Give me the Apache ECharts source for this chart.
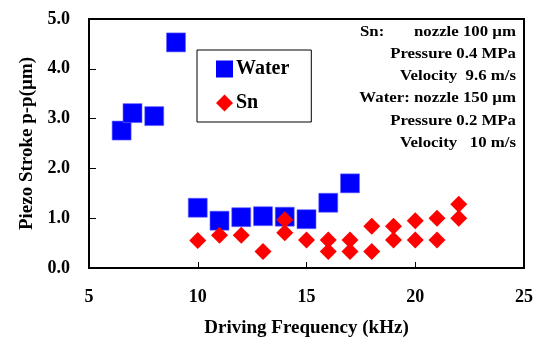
<!DOCTYPE html>
<html>
<head>
<meta charset="utf-8">
<script src="https://cdn.jsdelivr.net/npm/echarts@6/dist/echarts.min.js"></script>
<style>
  html, body { margin: 0; padding: 0; background: #fff; }
  #main { width: 542px; height: 343px; }
</style>
</head>
<body>
<div id="main"></div>
<script>
// water data (kHz, um)
const waterFreq = [6.5, 7, 8, 9, 10, 11, 12, 13, 14, 15, 16, 17];
const waterStroke = [2.76, 3.11, 3.05, 4.53, 1.21, 0.95, 1.02, 1.04, 1.03, 0.98, 1.31, 1.70];
// Sn data
const snFreq = [10, 11, 12, 13, 14, 14, 15, 16, 16, 17, 17, 18, 18, 19, 19, 20, 20, 21, 21, 22, 22];
const snStroke = [0.55, 0.66, 0.66, 0.33, 0.97, 0.71, 0.56, 0.56, 0.33, 0.56, 0.33, 0.84, 0.33, 0.84, 0.56, 0.95, 0.56, 1.00, 0.56, 1.28, 1.00];
const xTicks = [5, 10, 15, 20, 25];
const yTicks = [0, 1, 2, 3, 4, 5];
const noteLines = [
  ["Sn:", "nozzle 100 \u00b5m"],
  ["", "Pressure 0.4 MPa"],
  ["", "Velocity  9.6 m/s"],
  ["", "Water: nozzle 150 \u00b5m"],
  ["", "Pressure 0.2 MPa"],
  ["", "Velocity   10 m/s"]
];

const font = "Liberation Serif";
const chart = echarts.init(document.getElementById("main"));

// note block, slightly wide text like the original
const noteGraphics = [];
noteLines.forEach((l, i) => {
  const y = 32 + i * 22.2;
  if (l[0]) {
    noteGraphics.push({
      type: "text", x: 360, y: y, scaleX: 1.12,
      style: { text: l[0], font: "bold 15px " + font, fill: "#000", align: "left", verticalAlign: "middle" }
    });
  }
  noteGraphics.push({
    type: "text", x: 516, y: y, scaleX: 1.12,
    style: { text: l[1], font: "bold 15px " + font, fill: "#000", align: "right", verticalAlign: "middle" }
  });
});

const option = {
  animation: false,
  backgroundColor: "#fff",
  grid: {
    left: 89, right: 18, top: 19, bottom: 75,
    show: true, borderColor: "#000", borderWidth: 2
  },
  xAxis: {
    type: "value",
    min: xTicks[0], max: xTicks[xTicks.length - 1], interval: 5,
    name: "Driving Frequency (kHz)",
    nameLocation: "middle", nameGap: 51,
    nameTextStyle: { fontFamily: font, fontWeight: "bold", fontSize: 19, color: "#000" },
    axisLine: { lineStyle: { color: "#000", width: 2 } },
    axisTick: { inside: true, length: 6, lineStyle: { color: "#000", width: 1 } },
    axisLabel: { margin: 20, fontFamily: font, fontWeight: "bold", fontSize: 18, color: "#000" },
    splitLine: { show: false }
  },
  yAxis: {
    type: "value",
    min: yTicks[0], max: yTicks[yTicks.length - 1], interval: 1,
    name: "Piezo Stroke p-p(\u00b5m)",
    nameLocation: "middle", nameGap: 52,
    nameTextStyle: { fontFamily: font, fontWeight: "bold", fontSize: 19, color: "#000" },
    axisLine: { lineStyle: { color: "#000", width: 2 } },
    axisTick: { inside: true, length: 7, lineStyle: { color: "#000", width: 1 } },
    axisLabel: {
      margin: 19, fontFamily: font, fontWeight: "bold", fontSize: 18, color: "#000",
      formatter: v => v.toFixed(1)
    },
    splitLine: { show: false }
  },
  legend: {
    orient: "vertical",
    left: 197, top: 50,
    padding: [9, 22, 9, 19],
    itemGap: 14,
    itemWidth: 17, itemHeight: 17,
    borderColor: "#000", borderWidth: 1,
    itemStyle: { borderWidth: 0 },
    textStyle: { fontFamily: font, fontWeight: "bold", fontSize: 20, color: "#000", padding: [0, 0, 0, -2] },
    data: [
      { name: "Water", icon: "rect" },
      { name: "Sn", icon: "diamond" }
    ]
  },
  series: [
    {
      name: "Water", type: "scatter", symbol: "rect", symbolSize: 19,
      itemStyle: { color: "#0000ff", borderColor: "#6a6aff", borderWidth: 0.6, opacity: 1 },
      data: waterFreq.map((x, i) => [x, waterStroke[i]])
    },
    {
      name: "Sn", type: "scatter", symbol: "diamond", symbolSize: 17,
      itemStyle: { color: "#ff0000", opacity: 1 },
      data: snFreq.map((x, i) => [x, snStroke[i]])
    }
  ],
  graphic: noteGraphics
};

chart.setOption(option);
</script>
</body>
</html>
